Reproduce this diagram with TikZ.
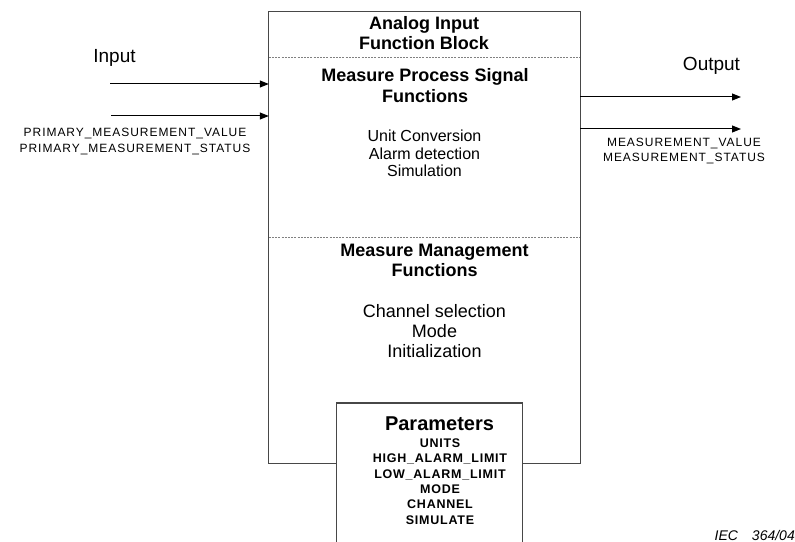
\documentclass[tikz,border=0pt]{standalone}
\usepackage{fontspec}
\setmainfont{Liberation Sans}
\usetikzlibrary{arrows.meta}
\newfontfamily\lsfont[LetterSpace=8]{Liberation Sans}
\newfontfamily\lsbold[LetterSpace=6]{Liberation Sans Bold}
\tikzset{
  x=1bp, y=-1bp,
  boxline/.style={draw=black!72, line width=1.2bp},
  sepline/.style={draw=black!50, line width=0.9bp, dash pattern=on 2bp off 1.2bp},
  arr/.style={draw=black, line width=1bp, -{Triangle[length=9bp,width=7bp]}},
  titletext/.style={font=\bfseries\fontsize{18bp}{20bp}\selectfont, align=center, inner sep=0pt},
  bodytext/.style={font=\fontsize{16bp}{17.5bp}\selectfont, align=center, inner sep=0pt},
  bodybig/.style={font=\fontsize{18bp}{20bp}\selectfont, align=center, inner sep=0pt},
  labeltext/.style={font=\lsfont\fontsize{12bp}{15.5bp}\selectfont, align=center, inner sep=0pt},
  paramlist/.style={font=\lsbold\fontsize{12.5bp}{15.4bp}\selectfont, align=center, inner sep=0pt},
}
\begin{document}
\begin{tikzpicture}
\useasboundingbox (0,0) rectangle (795,542);
% main block (frame only)
\node[minimum width=311bp, minimum height=451bp, inner sep=0pt, draw=none] (main) at (424.5,237.5) {};
\node[minimum width=185bp, minimum height=150bp, inner sep=0pt, draw=none, anchor=north] (par) at (429.5,403) {};
\draw[boxline] (par.north west |- main.south) -- (main.south west) -- (main.north west) -- (main.north east) -- (main.south east) -- (par.north east |- main.south);
\draw[boxline] (par.south west) -- (par.north west) -- (par.north east) -- (par.south east);
% separators
\coordinate (s1) at (424.5,57);
\coordinate (s2) at (424.5,237);
\draw[sepline] (s1 -| main.west) -- (s1 -| main.east);
\draw[sepline] (s2 -| main.west) -- (s2 -| main.east);
% texts in block
\node[titletext] (title) at (424,33) {Analog Input\\Function Block};
\node[titletext, font=\bfseries\fontsize{18bp}{21bp}\selectfont] (mps) at (425,85.5) {Measure Process Signal\\Functions};
\node[bodytext] (mpsl) at (424.5,153.5) {Unit Conversion\\Alarm detection\\Simulation};
\node[titletext] (mm) at (434.5,260) {Measure Management\\Functions};
\node[bodybig] (mml) at (434.5,331) {Channel selection\\Mode\\Initialization};
\node[titletext, font=\bfseries\fontsize{20bp}{22bp}\selectfont] (ptitle) at (439.5,424) {Parameters};
\node[paramlist] (plist) at (440,481.5) {UNITS\\HIGH\_ALARM\_LIMIT\\LOW\_ALARM\_LIMIT\\MODE\\CHANNEL\\SIMULATE};
% inputs
\node[bodybig, font=\fontsize{19bp}{20bp}\selectfont] (input) at (114.5,58) {Input};
\coordinate (i1) at (110,84);
\coordinate (i2) at (111,116);
\draw[arr] (i1) -- (i1 -| main.west);
\draw[arr] (i2) -- (i2 -| main.west);
\node[labeltext] (inlab) at (135,141.5) {PRIMARY\_MEASUREMENT\_VALUE\\PRIMARY\_MEASUREMENT\_STATUS};
% outputs
\node[bodybig, font=\fontsize{19bp}{20bp}\selectfont] (output) at (711.5,66) {Output};
\coordinate (o1) at (741,97);
\coordinate (o2) at (741,129);
\draw[arr] (o1 -| main.east) -- (o1);
\draw[arr] (o2 -| main.east) -- (o2);
\node[labeltext] (outlab) at (684,151) {MEASUREMENT\_VALUE\\MEASUREMENT\_STATUS};
% reference
\node[font=\itshape\fontsize{14bp}{16bp}\selectfont, anchor=east, inner sep=0pt] (iec) at (795,535) {IEC\hspace{14bp}364/04};
\end{tikzpicture}
\end{document}
